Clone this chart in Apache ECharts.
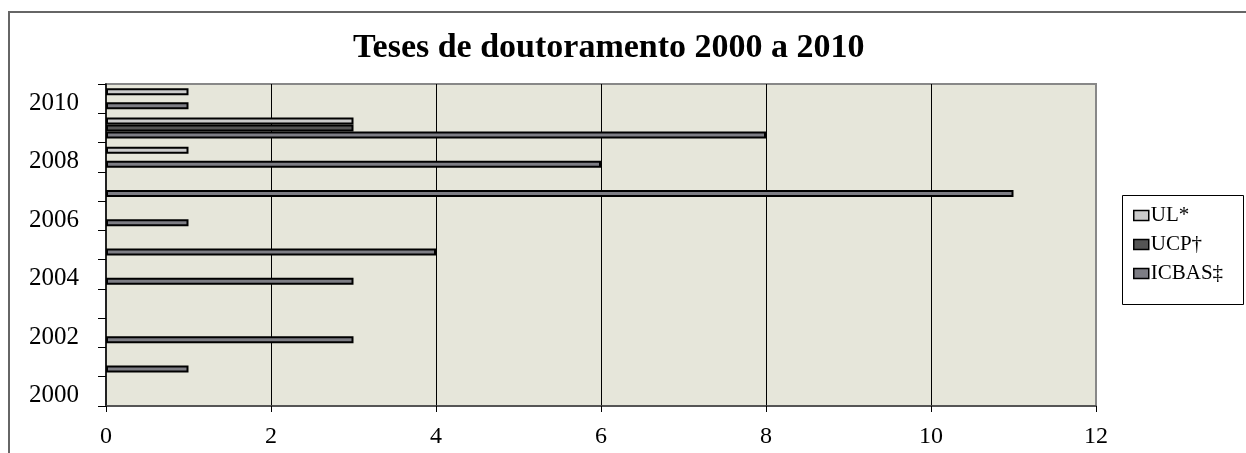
<!DOCTYPE html>
<html>
<head>
<meta charset="utf-8">
<script src="https://cdn.jsdelivr.net/npm/echarts@6/dist/echarts.min.js"></script>
<style>
html,body{margin:0;padding:0;background:#fff;}
#chart{width:1246px;height:453px;}
</style>
</head>
<body>
<div id="chart"></div>
<script>
const categories = ['2000','2001','2002','2003','2004','2005','2006','2007','2008','2009','2010'];
const seriesNames = ['UL*','UCP\u2020','ICBAS\u2021'];
const UL    = [0,0,0,0,0,0,0,0,1,3,1];
const UCP   = [0,0,0,0,0,0,0,0,0,3,0];
const ICBAS = [0,1,3,0,3,4,1,11,6,8,1];
const xTicks = [0,2,4,6,8,10,12];

const FONT = '"Liberation Serif", "Times New Roman", serif';
const nz = a => a.map(v => v === 0 ? null : v);

const chart = echarts.init(document.getElementById('chart'), null, {renderer:'canvas'});
const colors = ['#cbcbcb','#555555','#7d7d84'];
const values = [UL, UCP, ICBAS];

chart.setOption({
  animation:false,
  backgroundColor:'#ffffff',
  title:{
    text:'Teses de doutoramento 2000 a 2010',
    left:348, top:26,
    textStyle:{fontFamily:FONT, fontWeight:'bold', fontSize:34, color:'#000'}
  },
  legend:{
    orient:'vertical', left:1128, top:200,
    itemWidth:15, itemHeight:10, itemGap:8,
    icon:'rect',
    data:seriesNames,
    textStyle:{fontFamily:FONT, fontSize:21, color:'#000', padding:[0,0,0,-3]},
    itemStyle:{borderColor:'#000', borderWidth:1.5}
  },
  graphic:[
    {type:'rect', shape:{x:9, y:12, width:1260, height:460}, style:{fill:'none', stroke:'#666', lineWidth:2}, silent:true},
    {type:'rect', shape:{x:1122.5, y:195.5, width:121, height:109}, style:{fill:'none', stroke:'#000', lineWidth:1}, silent:true}
  ],
  grid:{
    left:106, right:150, top:84, bottom:47,
    show:true, backgroundColor:'#e6e6da', borderColor:'#888', borderWidth:2
  },
  xAxis:{
    type:'value', min:0, max:12, interval:2,
    axisLine:{show:true, lineStyle:{color:'#444', width:1.5}},
    axisTick:{show:true, length:6, lineStyle:{color:'#000'}},
    axisLabel:{fontFamily:FONT, fontSize:24, color:'#000', margin:19,
      formatter: v => xTicks.includes(v) ? String(v) : ''},
    splitLine:{show:true, lineStyle:{color:['#888','#000','#000','#000','#000','#000','#888'], width:1}}
  },
  yAxis:{
    type:'category', data:categories,
    axisLine:{show:true, lineStyle:{color:'#000', width:1.5}},
    axisTick:{show:true, interval:0, length:8, lineStyle:{color:'#000'}},
    axisLabel:{interval:1, margin:27,
      formatter: v => '{a|' + v + '}',
      rich:{a:{fontFamily:FONT, fontSize:25, color:'#000', padding:[9,0,0,0]}}},
    splitLine:{show:false}
  },
  series: seriesNames.map((n,i)=>({
    name:n, type:'bar', data:nz(values[i]),
    barWidth:7, barGap:'0%',
    itemStyle:{color:colors[i], borderColor:'#000', borderWidth:2}
  }))
});
</script>
</body>
</html>
